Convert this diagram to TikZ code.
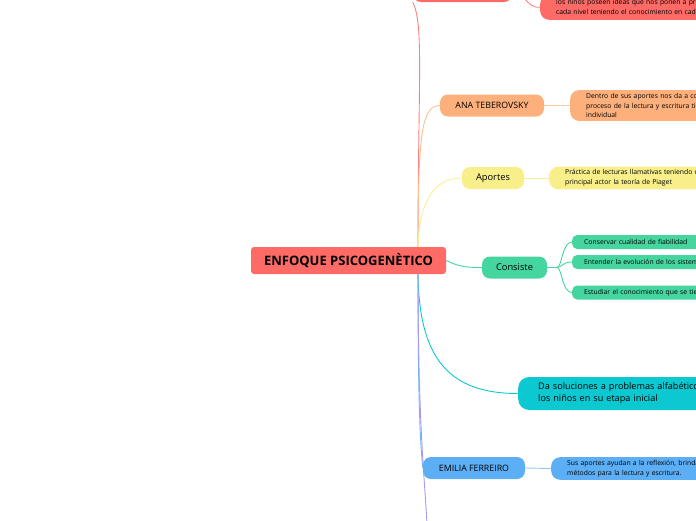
\documentclass[tikz,border=0pt]{standalone}
\usepackage{fontspec}
\setmainfont{Open Sans}
\usetikzlibrary{positioning,backgrounds}

\definecolor{mred}{HTML}{FE6A66}
\definecolor{morange}{HTML}{FDB07C}
\definecolor{myellow}{HTML}{F8EE8A}
\definecolor{mgreen}{HTML}{45D6A0}
\definecolor{mcyan}{HTML}{0CC8D0}
\definecolor{mblue}{HTML}{5CAEF5}
\definecolor{mpurple}{HTML}{A59BF0}

\tikzset{
  topic/.style={fill=#1, rounded corners=8pt, minimum height=22pt, inner sep=0pt, font=\fontsize{8.8}{10}\selectfont},
  leaf/.style={fill=#1, rounded corners=9pt, anchor=west, align=left, text width=200pt,
               inner xsep=16pt, inner ysep=5pt, font=\fontsize{6.8}{9.8}\selectfont},
  link/.style={draw=#1, line width=0.9pt}
}

\begin{document}
\begin{tikzpicture}[x=1pt,y=-1pt]
            \useasboundingbox (0,0) rectangle (696,520);
            \clip (0,0) rectangle (696,520);

            % Center node
            \node[fill=mred, rounded corners=3pt, minimum width=195pt, minimum height=27pt,
                  font=\fontsize{13}{14}\selectfont\bfseries] (C) at (348.5,260.5) {ENFOQUE PSICOGENÈTICO};
            \coordinate (hub) at (418,252);
            \coordinate (hubb) at (418,270);

            % Main topics
            \node[topic=mred, minimum width=99pt] (T1) at (462.5,-9) {};
            \node[topic=morange, minimum width=104pt] (T2) at (492,105.5) {ANA TEBEROVSKY};
            \node[topic=myellow, minimum width=62pt, font=\fontsize{9.3}{10}\selectfont] (T3) at (493,178) {Aportes};
            \node[topic=mgreen, minimum width=65pt, font=\fontsize{9.3}{10}\selectfont] (T4) at (514.5,267.5) {Consiste};
            \node[fill=mcyan, rounded corners=11pt, anchor=west, align=left, text width=200pt,
                  minimum height=33pt, inner xsep=20pt, font=\fontsize{9.1}{12}\selectfont] (T5) at (518,393.5)
                  {Da soluciones a problemas alfabéticos de\\los niños en su etapa inicial};
            \node[topic=mblue, minimum width=102pt] (T6) at (474,468) {EMILIA FERREIRO};
            \coordinate (T7) at (427,525);

            % Leaves
            \node[leaf=mred, anchor=south west] (L1) at (540,20)
                  {los niños poseen ideas que nos ponen a prueba en\\cada nivel teniendo el conocimiento en cada};
            \node[leaf=morange, inner ysep=3pt] (L2) at (570,105.5)
                  {Dentro de sus aportes nos da a conocer el\\proceso de la lectura y escritura tiene\\individual};
            \node[leaf=myellow, inner ysep=3pt] (L3) at (549,178)
                  {Práctica de lecturas llamativas teniendo como\\principal actor la teoría de Piaget};
            \foreach \y/\t [count=\i] in {242/Conservar cualidad de fiabilidad,
                                          262/Entender la evolución de los sistemas,
                                          292.5/Estudiar el conocimiento que se tiene} {
                \node[leaf=mgreen, rounded corners=5pt, minimum height=14pt,
                      inner xsep=12pt, inner ysep=0pt] (L4\i) at (572,\y) {\t};
            }
            \node[leaf=mblue, inner ysep=3pt] (L6) at (551,468.5)
                  {Sus aportes ayudan a la reflexión, brindando\\métodos para la lectura y escritura.};

            % Connectors
            \begin{pgfonlayer}{background}
                \draw[link=mred!85] (hub) .. controls (418,80) and (424,25) .. (T1.south west);
                \draw[link=morange!80] (hub) .. controls (418,130) and (422,106) .. (T2.west);
                \draw[link=myellow!90] (hub) .. controls (418,200) and (435,178) .. (T3.west);
                \draw[link=mgreen] (C.east) .. controls (460,267.5) and (470,267.5) .. (T4.west);
                \draw[link=mcyan] (hubb) .. controls (418,360) and (450,393.5) .. (T5.west);
                \draw[link=mblue!90] (hubb) .. controls (418,400) and (420,440) .. (T6.west);
                \draw[link=mpurple] (hubb) .. controls (418,430) and (425,480) .. (T7);

                \draw[link=mred!85] (T1.east) .. controls (525,-9) and (525,8) .. (L1.west);
                \draw[link=morange!70] (T2.east) -- (L2.west);
                \draw[link=myellow] (T3.east) -- (L3.west);
                \coordinate (split) at (557,267.5);
                \draw[link=mgreen] (T4.east) -- (split);
                \foreach \i in {1,2,3} {
                    \draw[link=mgreen] (split) .. controls (562,267.5) and (562,0 |- L4\i.west) .. (L4\i.west);
                }
                \draw[link=mblue!70] (T6.east) -- (L6.west);
            \end{pgfonlayer}
            \end{tikzpicture}
\end{document}
